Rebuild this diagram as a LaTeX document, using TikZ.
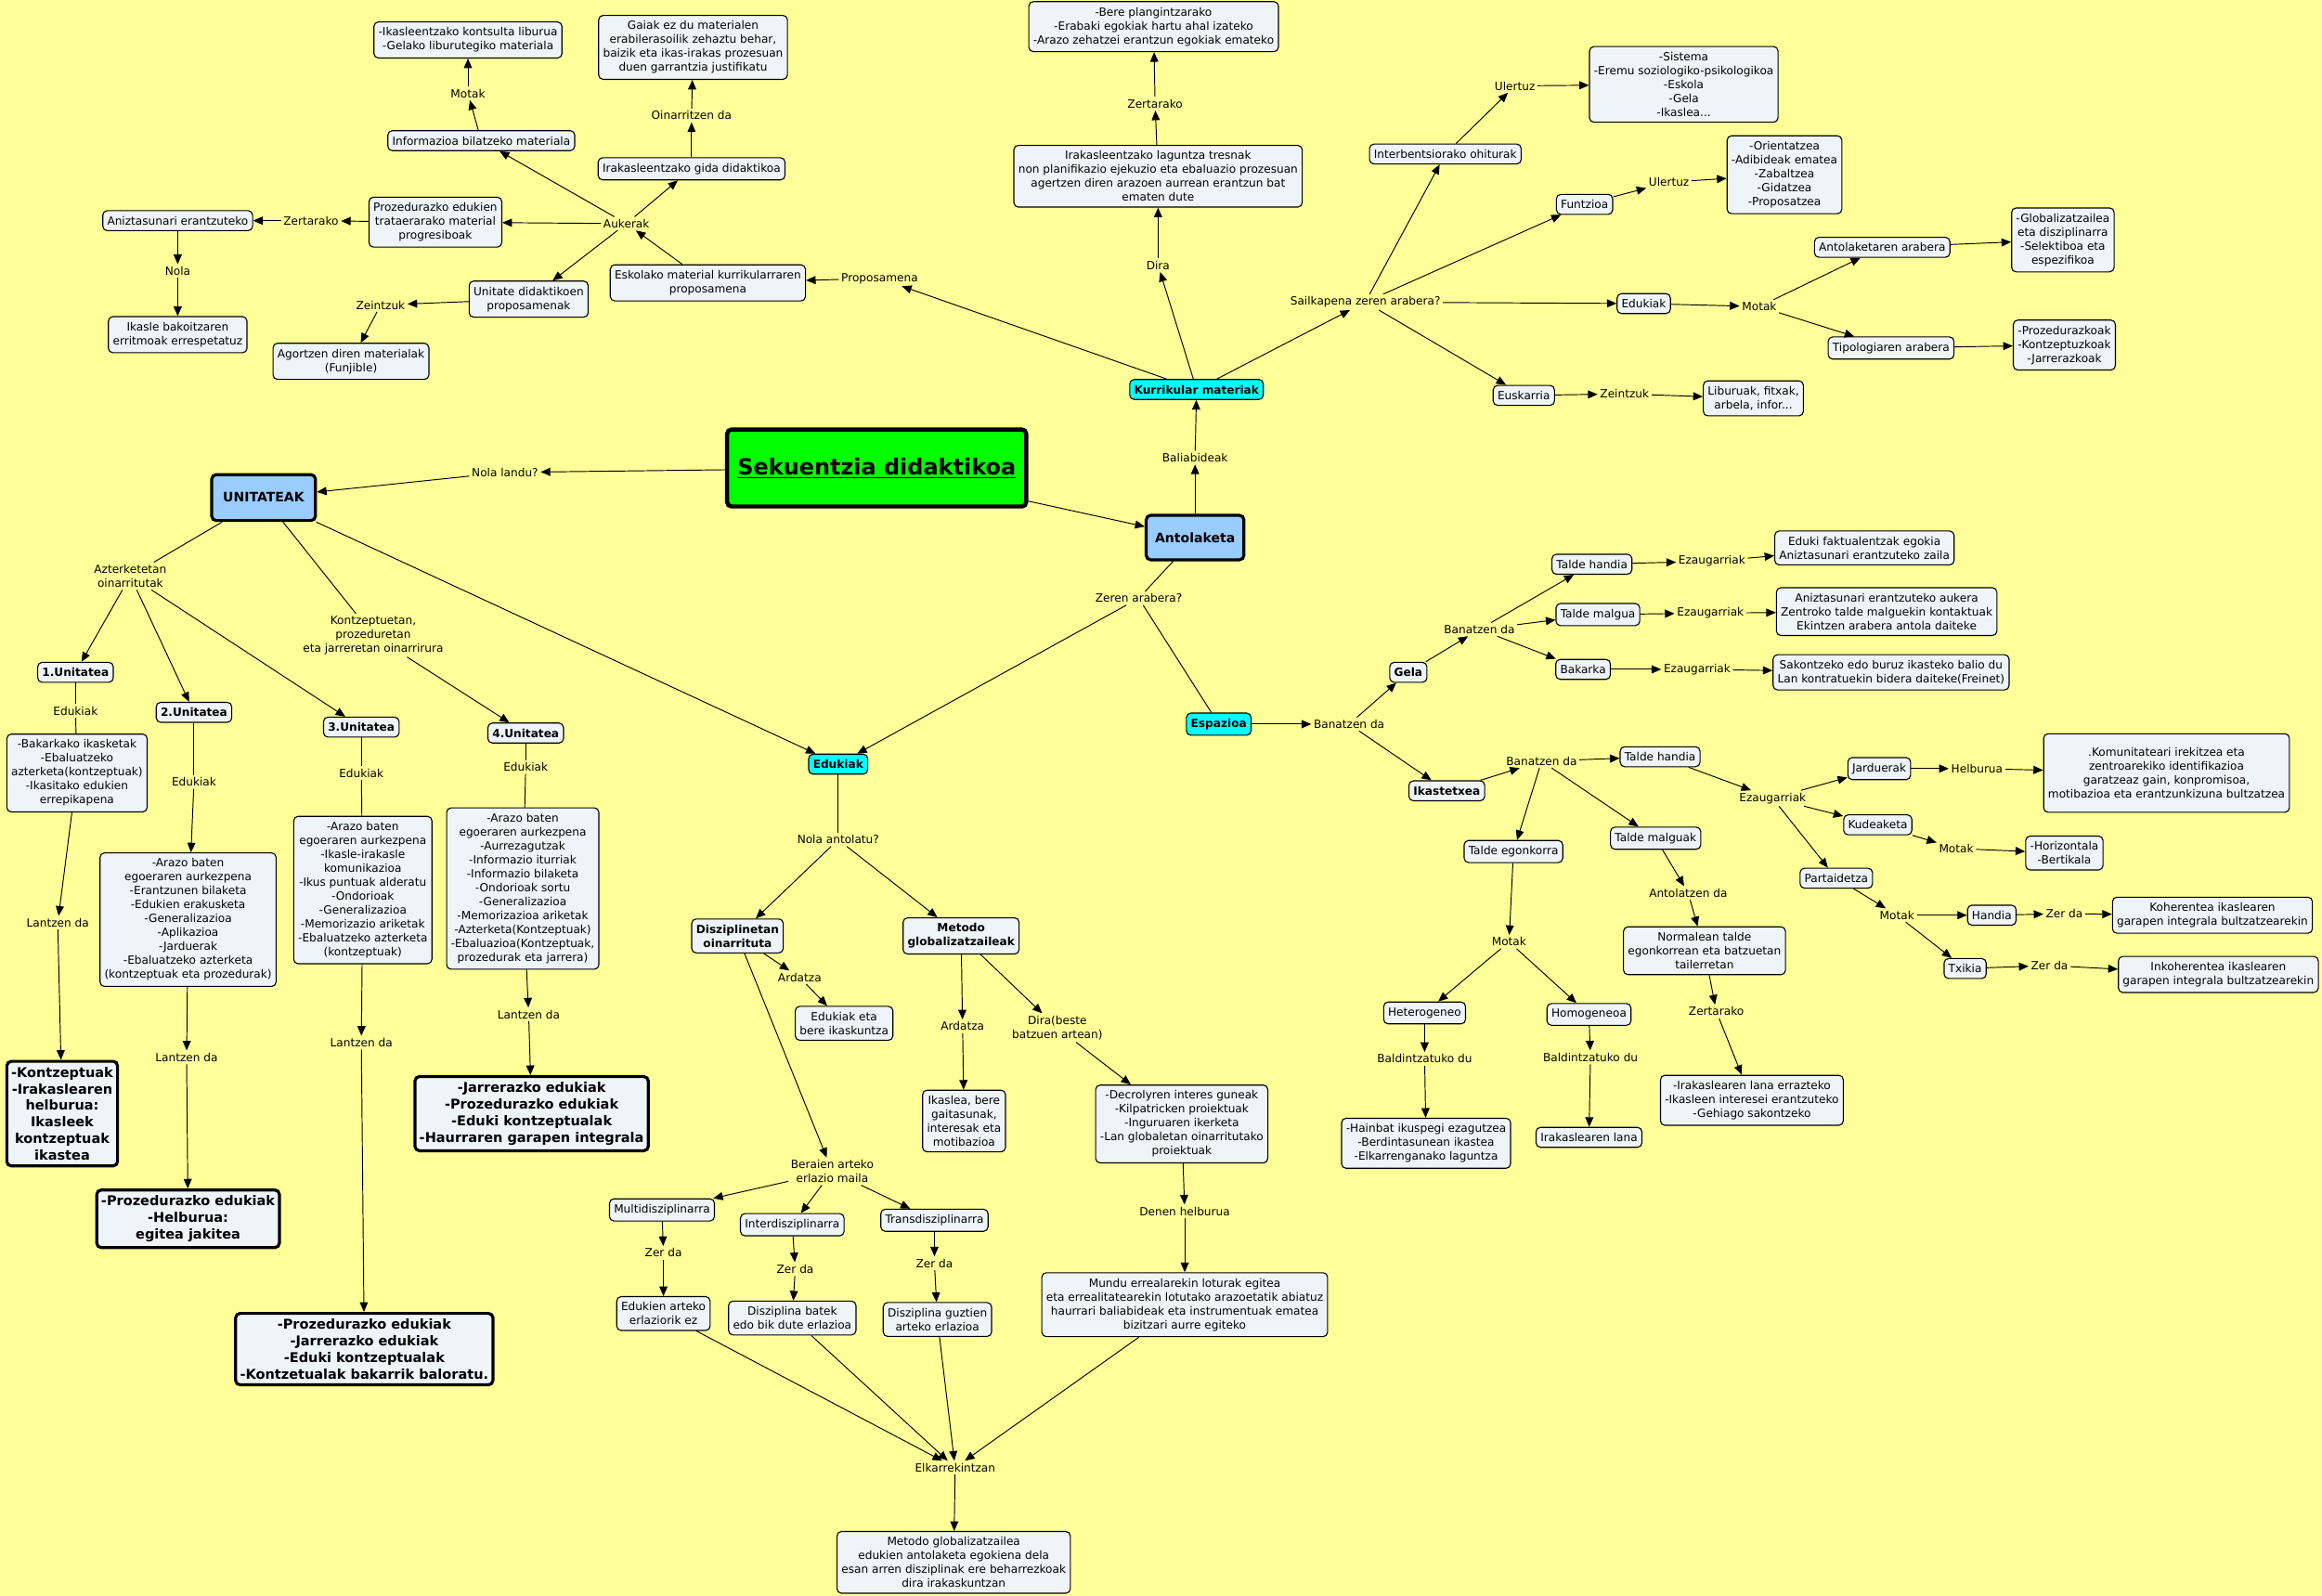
\documentclass[tikz,border=0pt]{standalone}
\usepackage{fontspec}
\setmainfont{DejaVu Sans}
\usepackage{tikz}
\usetikzlibrary{arrows.meta}
\definecolor{bgyellow}{RGB}{255,255,153}
\definecolor{boxfill}{RGB}{238,244,248}
\definecolor{hubblue}{RGB}{153,204,255}
\definecolor{topgreen}{RGB}{0,255,0}
\definecolor{kcyan}{RGB}{0,255,255}
\tikzset{
	box/.style={draw, rounded corners=3pt, fill=boxfill, line width=0.7pt, align=center, inner xsep=3pt, inner ysep=3.8pt, font=\fontsize{7.6}{9.4}\selectfont},
	boldbox/.style={box, font=\bfseries\fontsize{7.6}{9.4}\selectfont},
	cbox/.style={boldbox, fill=kcyan},
	bigbox/.style={box, line width=2pt, font=\bfseries\fontsize{9.1}{11.2}\selectfont},
	hub/.style={box, fill=hubblue, line width=2pt, font=\bfseries\fontsize{8.8}{10}\selectfont},
	lbl/.style={align=center, inner sep=1.5pt, font=\fontsize{7.6}{9.4}\selectfont},
	arr/.style={-{Triangle[length=6.5pt,width=5.5pt]}, line width=0.6pt},
	ln/.style={line width=0.6pt}
}
\begin{document}
\begin{tikzpicture}[x=1pt,y=-1pt]
	\useasboundingbox (0,0) rectangle (1568,1077.7);
	\fill[bgyellow] (0,0) rectangle (1568,1077.7);

	\node[box, fill=topgreen, line width=2.8pt, minimum width=202, minimum height=52, font=\bfseries\fontsize{15}{18}\selectfont] (sek) at (592,316) {\underline{Sekuentzia didaktikoa}};
	\node[hub, minimum width=70, minimum height=31] (unit) at (178,336) {UNITATEAK};
	\node[hub, minimum width=66, minimum height=30] (ant) at (807,363) {Antolaketa};
	\node[cbox] (kur) at (808,263) {Kurrikular materiak};
	\node[cbox] (edu) at (566,516) {Edukiak};
	\node[cbox] (esp) at (823,489) {Espazioa};

	\node[lbl] (nl) at (341,319) {Nola landu?};
	\node[lbl] (bal) at (807,309) {Baliabideak};
	\node[lbl] (zer) at (769,404) {Zeren arabera?};
	\draw[arr] (sek) -- (nl);
	\draw[arr] (nl) -- (unit);
	\draw[arr] (sek) -- (ant);
	\draw[arr] (ant) -- (bal);
	\draw[arr] (bal) -- (kur);
	\draw[ln] (ant) -- (zer);
	\draw[arr] (zer) -- (edu);
	\draw[ln] (zer) -- (esp);
	\draw[arr] (unit) -- (edu);

	\node[lbl] (prop) at (594,188) {Proposamena};
	\node[box] (esk) at (478,191) {Eskolako material kurrikularraren\\proposamena};
	\node[lbl] (dira) at (782,179) {Dira};
	\node[box] (tres) at (782,119) {Irakasleentzako laguntza tresnak\\non planifikazio ejekuzio eta ebaluazio prozesuan\\agertzen diren arazoen aurrean erantzun bat\\ematen dute};
	\node[lbl] (zt1) at (780,70) {Zertarako};
	\node[box] (bere) at (779,18) {-Bere plangintzarako\\-Erabaki egokiak hartu ahal izateko\\-Arazo zehatzei erantzun egokiak emateko};
	\draw[arr] (kur) -- (prop);
	\draw[arr] (prop) -- (esk);
	\draw[arr] (kur) -- (dira);
	\draw[arr] (dira) -- (tres);
	\draw[arr] (tres) -- (zt1);
	\draw[arr] (zt1) -- (bere);

	\node[lbl] (sail) at (922,204) {Sailkapena zeren arabera?};
	\node[box] (inter) at (976,104) {Interbentsiorako ohiturak};
	\node[lbl] (ul1) at (1023,58) {Ulertuz};
	\node[box] (sist) at (1137,57) {-Sistema\\-Eremu soziologiko-psikologikoa\\-Eskola\\-Gela\\-Ikaslea...};
	\node[box] (funtz) at (1070,138) {Funtzioa};
	\node[lbl] (ul2) at (1127,123) {Ulertuz};
	\node[box] (orien) at (1205,118) {-Orientatzea\\-Adibideak ematea\\-Zabaltzea\\-Gidatzea\\-Proposatzea};
	\node[box] (edk) at (1110,205) {Edukiak};
	\node[lbl] (mot1) at (1188,207) {Motak};
	\node[box] (antar) at (1271,167) {Antolaketaren arabera};
	\node[box] (tipar) at (1277,235) {Tipologiaren arabera};
	\node[box] (glob) at (1393,162) {-Globalizatzailea\\eta disziplinarra\\-Selektiboa eta\\espezifikoa};
	\node[box] (proz) at (1394,233) {-Prozedurazkoak\\-Kontzeptuzkoak\\-Jarrerazkoak};
	\node[box] (eusk) at (1029,267) {Euskarria};
	\node[lbl] (zei1) at (1097,266) {Zeintzuk};
	\node[box] (libu) at (1184,269) {Liburuak, fitxak,\\arbela, infor...};
	\draw[arr] (kur) -- (sail);
	\draw[arr] (sail) -- (inter);
	\draw[arr] (inter) -- (ul1);
	\draw[arr] (ul1) -- (sist);
	\draw[arr] (sail) -- (funtz);
	\draw[arr] (funtz) -- (ul2);
	\draw[arr] (ul2) -- (orien);
	\draw[arr] (sail) -- (edk);
	\draw[arr] (edk) -- (mot1);
	\draw[arr] (mot1) -- (antar);
	\draw[arr] (mot1) -- (tipar);
	\draw[arr] (antar) -- (glob);
	\draw[arr] (tipar) -- (proz);
	\draw[arr] (sail) -- (eusk);
	\draw[arr] (eusk) -- (zei1);
	\draw[arr] (zei1) -- (libu);

	\node[lbl] (auk) at (423,151) {Aukerak};
	\node[box] (gida) at (467,114) {Irakasleentzako gida didaktikoa};
	\node[lbl] (oin) at (467,78) {Oinarritzen da};
	\node[box] (gaiak) at (468,32) {Gaiak ez du materialen\\erabilerasoilik zehaztu behar,\\baizik eta ikas-irakas prozesuan\\duen garrantzia justifikatu};
	\node[box] (info) at (325,95) {Informazioa bilatzeko materiala};
	\node[lbl] (mot2) at (316,63) {Motak};
	\node[box] (kont) at (316,27) {-Ikasleentzako kontsulta liburua\\-Gelako liburutegiko materiala};
	\node[box] (prog) at (294,150) {Prozedurazko edukien\\trataerarako material\\progresiboak};
	\node[lbl] (zt2) at (210,149) {Zertarako};
	\node[box] (aniz) at (120,149) {Aniztasunari erantzuteko};
	\node[lbl] (nola) at (120,183) {Nola};
	\node[box] (erri) at (120,226) {Ikasle bakoitzaren\\erritmoak errespetatuz};
	\node[box] (udp) at (357,202) {Unitate didaktikoen\\proposamenak};
	\node[lbl] (zei2) at (257,206) {Zeintzuk};
	\node[box] (agor) at (237,244) {Agortzen diren materialak\\(Funjible)};
	\draw[arr] (esk) -- (auk);
	\draw[arr] (auk) -- (gida);
	\draw[arr] (gida) -- (oin);
	\draw[arr] (oin) -- (gaiak);
	\draw[arr] (auk) -- (info);
	\draw[arr] (info) -- (mot2);
	\draw[arr] (mot2) -- (kont);
	\draw[arr] (auk) -- (prog);
	\draw[arr] (prog) -- (zt2);
	\draw[arr] (zt2) -- (aniz);
	\draw[arr] (aniz) -- (nola);
	\draw[arr] (nola) -- (erri);
	\draw[arr] (auk) -- (udp);
	\draw[arr] (udp) -- (zei2);
	\draw[arr] (zei2) -- (agor);

	\node[lbl] (azt) at (88,389) {Azterketetan\\oinarritutak};
	\node[lbl] (kpj) at (252,429) {Kontzeptuetan,\\prozeduretan\\eta jarreretan oinarrirura};
	\node[boldbox] (u1) at (51,454) {1.Unitatea};
	\node[boldbox] (u2) at (131,481) {2.Unitatea};
	\node[boldbox] (u3) at (244,491) {3.Unitatea};
	\node[boldbox] (u4) at (355,495) {4.Unitatea};
	\draw[ln] (unit) -- (azt);
	\draw[ln] (unit) -- (kpj);
	\draw[arr] (azt) -- (u1);
	\draw[arr] (azt) -- (u2);
	\draw[arr] (azt) -- (u3);
	\draw[arr] (kpj) -- (u4);

	\node[lbl] (e1) at (51,480) {Edukiak};
	\node[box] (b1) at (52,522) {-Bakarkako ikasketak\\-Ebaluatzeko\\azterketa(kontzeptuak)\\-Ikasitako edukien\\errepikapena};
	\node[lbl] (l1) at (39,623) {Lantzen da};
	\node[bigbox] (f1) at (42,752) {-Kontzeptuak\\-Irakaslearen\\helburua:\\Ikasleek\\kontzeptuak\\ikastea};
	\draw[ln] (u1) -- (e1);
	\draw[ln] (e1) -- (b1);
	\draw[arr] (b1) -- (l1);
	\draw[arr] (l1) -- (f1);

	\node[lbl] (e2) at (131,528) {Edukiak};
	\node[box] (b2) at (127,621) {-Arazo baten\\egoeraren aurkezpena\\-Erantzunen bilaketa\\-Edukien erakusketa\\-Generalizazioa\\-Aplikazioa\\-Jarduerak\\-Ebaluatzeko azterketa\\(kontzeptuak eta prozedurak)};
	\node[lbl] (l2) at (126,714) {Lantzen da};
	\node[bigbox] (f2) at (127,823) {-Prozedurazko edukiak\\-Helburua:\\egitea jakitea};
	\draw[ln] (u2) -- (e2);
	\draw[arr] (e2) -- (b2);
	\draw[arr] (b2) -- (l2);
	\draw[arr] (l2) -- (f2);

	\node[lbl] (e3) at (244,522) {Edukiak};
	\node[box] (b3) at (245,601) {-Arazo baten\\egoeraren aurkezpena\\-Ikasle-irakasle\\komunikazioa\\-Ikus puntuak alderatu\\-Ondorioak\\-Generalizazioa\\-Memorizazio ariketak\\-Ebaluatzeko azterketa\\(kontzeptuak)};
	\node[lbl] (l3) at (244,704) {Lantzen da};
	\node[bigbox] (f3) at (246,911) {-Prozedurazko edukiak\\-Jarrerazko edukiak\\-Eduki kontzeptualak\\-Kontzetualak bakarrik baloratu.};
	\draw[ln] (u3) -- (e3);
	\draw[ln] (e3) -- (b3);
	\draw[arr] (b3) -- (l3);
	\draw[arr] (l3) -- (f3);

	\node[lbl] (e4) at (355,518) {Edukiak};
	\node[box] (b4) at (353,600) {-Arazo baten\\egoeraren aurkezpena\\-Aurrezagutzak\\-Informazio iturriak\\-Informazio bilaketa\\-Ondorioak sortu\\-Generalizazioa\\-Memorizazioa ariketak\\-Azterketa(Kontzeptuak)\\-Ebaluazioa(Kontzeptuak,\\prozedurak eta jarrera)};
	\node[lbl] (l4) at (357,685) {Lantzen da};
	\node[bigbox] (f4) at (359,752) {-Jarrerazko edukiak\\-Prozedurazko edukiak\\-Eduki kontzeptualak\\-Haurraren garapen integrala};
	\draw[ln] (u4) -- (e4);
	\draw[ln] (e4) -- (b4);
	\draw[arr] (b4) -- (l4);
	\draw[arr] (l4) -- (f4);

	\node[lbl] (na) at (566,567) {Nola antolatu?};
	\node[boldbox] (dis) at (498,632) {Disziplinetan\\oinarrituta};
	\node[boldbox] (met) at (649,632) {Metodo\\globalizatzaileak};
	\node[lbl] (ard1) at (540,660) {Ardatza};
	\node[box] (eik) at (570,691) {Edukiak eta\\bere ikaskuntza};
	\node[lbl] (ber) at (562,791) {Beraien arteko\\erlazio maila};
	\node[box] (mul) at (447,817) {Multidisziplinarra};
	\node[box] (int) at (535,827) {Interdisziplinarra};
	\node[box] (tra) at (631,824) {Transdisziplinarra};
	\node[lbl] (zd1) at (448,846) {Zer da};
	\node[lbl] (zd2) at (537,857) {Zer da};
	\node[lbl] (zd3) at (631,853) {Zer da};
	\node[box] (mulz) at (448,887) {Edukien arteko\\erlaziorik ez};
	\node[box] (intz) at (535,890) {Disziplina batek\\edo bik dute erlazioa};
	\node[box] (traz) at (633,891) {Disziplina guztien\\arteko erlazioa};
	\node[lbl] (ard2) at (650,693) {Ardatza};
	\node[box] (ikas) at (651,757) {Ikaslea, bere\\gaitasunak,\\interesak eta\\motibazioa};
	\node[lbl] (dbe) at (714,694) {Dira(beste\\batzuen artean)};
	\node[box] (decr) at (798,759) {-Decrolyren interes guneak\\-Kilpatricken proiektuak\\-Inguruaren ikerketa\\-Lan globaletan oinarritutako\\proiektuak};
	\node[lbl] (den) at (800,818) {Denen helburua};
	\node[box] (mun) at (800,881) {Mundu errealarekin loturak egitea\\eta errealitatearekin lotutako arazoetatik abiatuz\\haurrari baliabideak eta instrumentuak ematea\\bizitzari aurre egiteko};
	\node[lbl] (elk) at (645,991) {Elkarrekintzan};
	\node[box] (mgl) at (644,1055) {Metodo globalizatzailea\\edukien antolaketa egokiena dela\\esan arren disziplinak ere beharrezkoak\\dira irakaskuntzan};
	\draw[ln] (edu) -- (na);
	\draw[arr] (na) -- (dis);
	\draw[arr] (na) -- (met);
	\draw[arr] (dis) -- (ard1);
	\draw[arr] (ard1) -- (eik);
	\draw[arr] (dis) -- (ber);
	\draw[arr] (ber) -- (mul);
	\draw[arr] (ber) -- (int);
	\draw[arr] (ber) -- (tra);
	\draw[arr] (mul) -- (zd1);
	\draw[arr] (zd1) -- (mulz);
	\draw[arr] (int) -- (zd2);
	\draw[arr] (zd2) -- (intz);
	\draw[arr] (tra) -- (zd3);
	\draw[arr] (zd3) -- (traz);
	\draw[arr] (met) -- (ard2);
	\draw[arr] (ard2) -- (ikas);
	\draw[arr] (met) -- (dbe);
	\draw[arr] (dbe) -- (decr);
	\draw[arr] (decr) -- (den);
	\draw[arr] (den) -- (mun);
	\draw[arr] (mulz) -- (elk);
	\draw[arr] (intz) -- (elk);
	\draw[arr] (traz) -- (elk);
	\draw[arr] (mun) -- (elk);
	\draw[arr] (elk) -- (mgl);

	\node[lbl] (ban1) at (911,489) {Banatzen da};
	\node[boldbox] (gela) at (951,454) {Gela};
	\node[boldbox] (ikt) at (977,534) {Ikastetxea};
	\node[lbl] (ban2) at (999,425) {Banatzen da};
	\node[box] (th1) at (1075,381) {Talde handia};
	\node[box] (tm1) at (1079,415) {Talde malgua};
	\node[box] (bak) at (1069,452) {Bakarka};
	\node[lbl] (ez1) at (1156,379) {Ezaugarriak};
	\node[lbl] (ez2) at (1155,414) {Ezaugarriak};
	\node[lbl] (ez3) at (1146,452) {Ezaugarriak};
	\node[box] (fakt) at (1259,370) {Eduki faktualentzak egokia\\Aniztasunari erantzuteko zaila};
	\node[box] (auke) at (1274,413) {Aniztasunari erantzuteko aukera\\Zentroko talde malguekin kontaktuak\\Ekintzen arabera antola daiteke};
	\node[box] (sako) at (1277,454) {Sakontzeko edo buruz ikasteko balio du\\Lan kontratuekin bidera daiteke(Freinet)};
	\draw[arr] (esp) -- (ban1);
	\draw[arr] (ban1) -- (gela);
	\draw[arr] (ban1) -- (ikt);
	\draw[arr] (gela) -- (ban2);
	\draw[arr] (ban2) -- (th1);
	\draw[arr] (ban2) -- (tm1);
	\draw[arr] (ban2) -- (bak);
	\draw[arr] (th1) -- (ez1);
	\draw[arr] (ez1) -- (fakt);
	\draw[arr] (tm1) -- (ez2);
	\draw[arr] (ez2) -- (auke);
	\draw[arr] (bak) -- (ez3);
	\draw[arr] (ez3) -- (sako);

	\node[lbl] (ban3) at (1041,514) {Banatzen da};
	\node[box] (th2) at (1121,511) {Talde handia};
	\node[box] (teg) at (1022,575) {Talde egonkorra};
	\node[box] (tms) at (1118,566) {Talde malguak};
	\node[lbl] (ez4) at (1197,539) {Ezaugarriak};
	\node[box] (jard) at (1269,519) {Jarduerak};
	\node[box] (kude) at (1268,557) {Kudeaketa};
	\node[box] (part) at (1240,593) {Partaidetza};
	\node[lbl] (helb) at (1335,519) {Helburua};
	\node[box, minimum height=53] (komu) at (1463,522) {.Komunitateari irekitzea eta\\zentroarekiko identifikazioa\\garatzeaz gain, konpromisoa,\\motibazioa eta erantzunkizuna bultzatzea};
	\node[lbl] (mot3) at (1321,573) {Motak};
	\node[box] (hori) at (1394,576) {-Horizontala\\-Bertikala};
	\node[lbl] (mot4) at (1281,618) {Motak};
	\node[box] (hand) at (1345,618) {Handia};
	\node[lbl] (zd4) at (1394,617) {Zer da};
	\node[box] (kohe) at (1494,618) {Koherentea ikaslearen\\garapen integrala bultzatzearekin};
	\node[box] (txik) at (1327,654) {Txikia};
	\node[lbl] (zd5) at (1384,652) {Zer da};
	\node[box] (inko) at (1498,658) {Inkoherentea ikaslearen\\garapen integrala bultzatzearekin};
	\draw[arr] (ikt) -- (ban3);
	\draw[arr] (ban3) -- (th2);
	\draw[arr] (ban3) -- (teg);
	\draw[arr] (ban3) -- (tms);
	\draw[arr] (th2) -- (ez4);
	\draw[arr] (ez4) -- (jard);
	\draw[arr] (ez4) -- (kude);
	\draw[arr] (ez4) -- (part);
	\draw[arr] (jard) -- (helb);
	\draw[arr] (helb) -- (komu);
	\draw[arr] (kude) -- (mot3);
	\draw[arr] (mot3) -- (hori);
	\draw[arr] (part) -- (mot4);
	\draw[arr] (mot4) -- (hand);
	\draw[arr] (hand) -- (zd4);
	\draw[arr] (zd4) -- (kohe);
	\draw[arr] (mot4) -- (txik);
	\draw[arr] (txik) -- (zd5);
	\draw[arr] (zd5) -- (inko);

	\node[lbl] (mot5) at (1019,636) {Motak};
	\node[box] (het) at (962,684) {Heterogeneo};
	\node[box] (hom) at (1073,685) {Homogeneoa};
	\node[lbl] (bd1) at (962,715) {Baldintzatuko du};
	\node[lbl] (bd2) at (1074,714) {Baldintzatuko du};
	\node[box] (hain) at (963,772) {-Hainbat ikuspegi ezagutzea\\-Berdintasunean ikastea\\-Elkarrenganako laguntza};
	\node[box] (ilan) at (1073,768) {Irakaslearen lana};
	\node[lbl] (antd) at (1140,603) {Antolatzen da};
	\node[box] (norm) at (1151,642) {Normalean talde\\egonkorrean eta batzuetan\\tailerretan};
	\node[lbl] (zt3) at (1159,683) {Zertarako};
	\node[box] (erra) at (1183,743) {-Irakaslearen lana errazteko\\-Ikasleen interesei erantzuteko\\-Gehiago sakontzeko};
	\draw[arr] (teg) -- (mot5);
	\draw[arr] (mot5) -- (het);
	\draw[arr] (mot5) -- (hom);
	\draw[arr] (het) -- (bd1);
	\draw[arr] (bd1) -- (hain);
	\draw[arr] (hom) -- (bd2);
	\draw[arr] (bd2) -- (ilan);
	\draw[arr] (tms) -- (antd);
	\draw[arr] (antd) -- (norm);
	\draw[arr] (norm) -- (zt3);
	\draw[arr] (zt3) -- (erra);
\end{tikzpicture}
\end{document}
